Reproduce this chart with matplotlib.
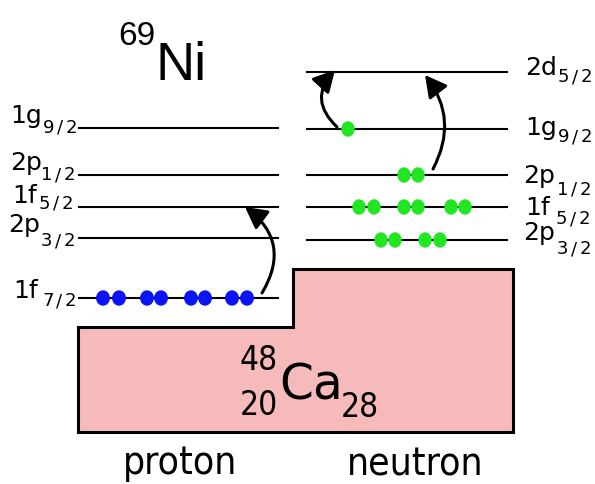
import matplotlib
matplotlib.use('Agg')
import matplotlib.pyplot as plt
from matplotlib.patches import Polygon, Ellipse, FancyArrowPatch

# ---------------- data ----------------
proton_orbit = ['1f', '2p', '1f', '2p', '1g']
proton_j = ['7/2', '3/2', '5/2', '1/2', '9/2']
proton_energy = [298, 238, 207, 175, 128]      # diagram units (downwards)
proton_occ = [8, 0, 0, 0, 0]

neutron_orbit = ['2p', '1f', '2p', '1g', '2d']
neutron_j = ['3/2', '5/2', '1/2', '9/2', '5/2']
neutron_energy = [240, 207, 175, 129, 72]
neutron_occ = [4, 6, 2, 1, 0]

core_label = 'Ca'
core_A, core_Z, core_N = '48', '20', '28'
nucleus_label = 'Ni'
nucleus_A = '69'
side_labels = ['proton', 'neutron']

# ---------------- layout ----------------
proton_x = (79, 278)
neutron_x = (307, 507)
proton_dot_x = [103, 119, 147, 161, 191, 205, 232, 247]
neutron_dot_x = {0: [381, 395, 425, 440],
                 1: [359, 374, 404, 418, 451, 465],
                 2: [404, 418],
                 3: [348]}
# (main x, main baseline, sub x, sub baseline)
proton_lab = [(13, 298, 42, 306), (8, 232, 41, 246), (12, 203, 39, 209),
              (10, 170, 41, 180), (10, 123, 43, 133)]
neutron_lab = [(523, 240, 557, 254), (525, 215, 556, 224), (523, 183, 557, 195),
               (525, 135, 558, 142), (525, 75, 558, 82)]

fig = plt.figure(figsize=(5.95, 4.84), dpi=100)
ax = fig.add_axes([0, 0, 1, 1])
ax.set_xlim(0, 595)
ax.set_ylim(484, 0)
ax.axis('off')

# core box
core = Polygon([(78, 327), (293, 327), (293, 269), (513, 269), (513, 432), (78, 432)],
               closed=True, facecolor='#f7baba', edgecolor='black', lw=2.2, zorder=1)
ax.add_patch(core)


def draw_label(x, yb, main, sub, xs, ys):
    ax.text(x, yb, main, fontsize=18, family='DejaVu Sans', va='baseline', ha='left')
    offs = [5.75, 17, 28.2]
    for ch, o in zip(sub, offs):
        ax.text(xs + o, ys, ch, fontsize=13, family='DejaVu Sans',
                va='baseline', ha='center')


for i, e in enumerate(proton_energy):
    ax.plot(proton_x, [e, e], color='black', lw=1.5, zorder=2)
    draw_label(*proton_lab[i][:2], proton_orbit[i], proton_j[i], *proton_lab[i][2:])
    for k in range(proton_occ[i]):
        ax.add_patch(Ellipse((proton_dot_x[k], e), 12.5, 14, color='#0a14f5', zorder=3))

for i, e in enumerate(neutron_energy):
    ax.plot(neutron_x, [e, e], color='black', lw=1.5, zorder=2)
    draw_label(*neutron_lab[i][:2], neutron_orbit[i], neutron_j[i], *neutron_lab[i][2:])
    for k in range(neutron_occ[i]):
        ax.add_patch(Ellipse((neutron_dot_x[i][k], e), 12, 14, color='#22e622', zorder=3))

# excitation arrows
arrows = [((262, 293), (245, 207), 0.45),
          ((337, 127), (335, 70), -0.49),
          ((433, 169), (425, 75), 0.32)]
for a, b, r in arrows:
    ax.add_patch(FancyArrowPatch(a, b, connectionstyle=f'arc3,rad={r}',
                                 arrowstyle='-|>,head_length=0.65,head_width=0.35',
                                 mutation_scale=20, lw=2.2, color='black',
                                 shrinkA=0, shrinkB=0, zorder=4))

# nucleus names
ax.text(155, 80, nucleus_label, fontsize=39, family='Liberation Sans', va='baseline')
ax.text(118, 45, nucleus_A, fontsize=24, family='Liberation Sans', va='baseline')

cond = dict(family='DejaVu Sans', fontstretch='condensed', va='baseline')
ax.text(279, 400, core_label, fontsize=35, family='DejaVu Sans', va='baseline')
ax.text(278, 370, core_A, fontsize=24, ha='right', **cond)
ax.text(278, 415, core_Z, fontsize=24, ha='right', **cond)
ax.text(341, 417, core_N, fontsize=24, ha='left', **cond)

ax.text(180, 474, side_labels[0], fontsize=28, ha='center', **cond)
ax.text(415, 475, side_labels[1], fontsize=28, ha='center', **cond)

fig.savefig('out.png', dpi=100)
